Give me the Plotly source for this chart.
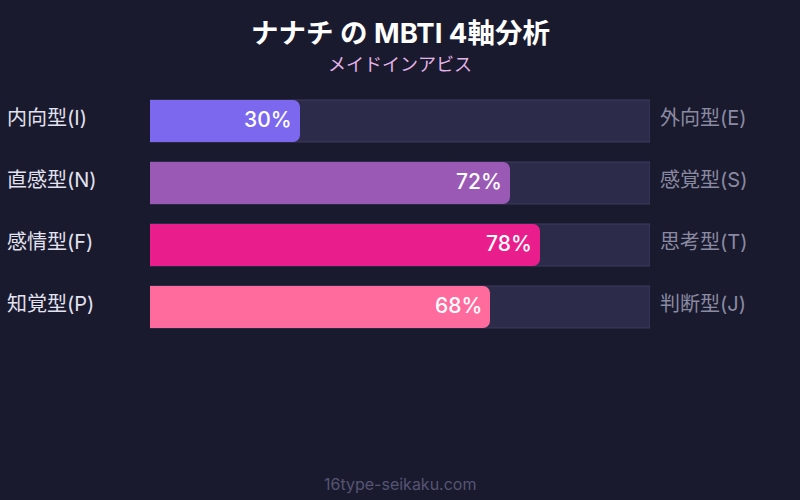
import plotly.graph_objects as go

left_labels = ["内向型(I)", "直感型(N)", "感情型(F)", "知覚型(P)"]
right_labels = ["外向型(E)", "感覚型(S)", "思考型(T)", "判断型(J)"]
values = [30, 72, 78, 68]
colors = ["#7b68ee", "#9b59b6", "#e91e8c", "#ff6b9d"]
title_text = "ナナチ の MBTI 4軸分析"
subtitle_text = "メイドインアビス"
footer_text = "16type-seikaku.com"

FONT = "Inter, Roboto, 'Noto Sans CJK JP', sans-serif"
BG = "#1a1a2e"

cats = list(range(len(values)))

fig = go.Figure()
fig.add_trace(go.Bar(
    y=cats, x=[100] * len(values), orientation="h", yaxis="y",
    marker=dict(color="#2d2b4a", line=dict(color="#3f3d60", width=1)),
    hoverinfo="skip", showlegend=False,
))
fig.add_trace(go.Bar(
    y=cats, x=values, orientation="h", yaxis="y2",
    marker=dict(color=colors, line=dict(width=0), cornerradius=7),
    hoverinfo="skip", showlegend=False,
))

annotations = []
for i, (v, ll, rl) in enumerate(zip(values, left_labels, right_labels)):
    annotations.append(dict(
        x=v, y=i, xref="x", yref="y", text=f"{v}%", showarrow=False,
        xanchor="right", xshift=-6, yshift=2,
        font=dict(family=FONT, size=21, color="#ffffff", weight=500),
    ))
    annotations.append(dict(
        x=(5 - 150) / 500, y=i, xref="paper", yref="y", text=ll, showarrow=False,
        xanchor="left", yshift=3, font=dict(family=FONT, size=20, color="#e2e2f0"),
    ))
    annotations.append(dict(
        x=(658 - 150) / 500, y=i, xref="paper", yref="y", text=rl, showarrow=False,
        xanchor="left", yshift=3, font=dict(family=FONT, size=20, color="#8a8aa2"),
    ))

annotations.append(dict(
    x=0.5, y=(500 - 33 - 162) / 248, xref="paper", yref="paper",
    text=f"<b>{title_text}</b>", showarrow=False, xanchor="center", yanchor="middle",
    font=dict(family=FONT, size=27.5, color="#ffffff"),
))
annotations.append(dict(
    x=0.5, y=(500 - 64 - 162) / 248, xref="paper", yref="paper",
    text=subtitle_text, showarrow=False, xanchor="center", yanchor="middle",
    font=dict(family=FONT, size=18, color="#e4b4e8"),
))
annotations.append(dict(
    x=0.5, y=(500 - 484 - 162) / 248, xref="paper", yref="paper",
    text=footer_text, showarrow=False, xanchor="center", yanchor="middle",
    font=dict(family=FONT, size=16, color="#555573"),
))

fig.update_layout(
    width=800, height=500,
    margin=dict(l=150, r=150, t=90, b=162),
    paper_bgcolor=BG, plot_bgcolor=BG,
    barmode="group", bargap=0.323,
    xaxis=dict(range=[0, 100], visible=False, fixedrange=True),
    yaxis=dict(range=[3.5, -0.5], visible=False, fixedrange=True),
    yaxis2=dict(range=[3.5, -0.5], visible=False, fixedrange=True, overlaying="y"),
    annotations=annotations,
)

fig.write_html(
    "out.html",
    config={"displayModeBar": False},
    post_script="document.body.style.margin='0';document.body.style.overflow='hidden';document.body.style.background='#1a1a2e';",
)
